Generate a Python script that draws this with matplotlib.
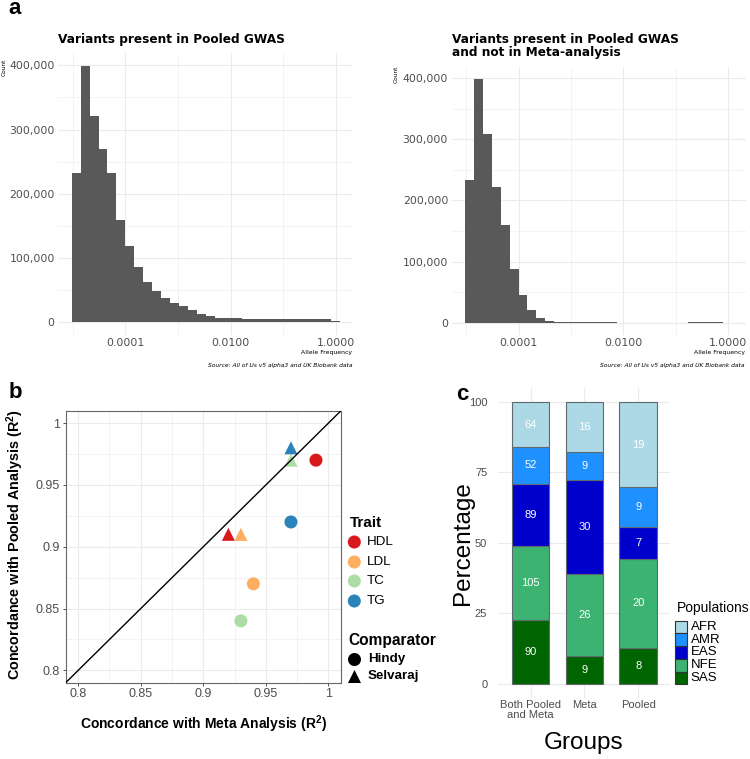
import numpy as np
import matplotlib
matplotlib.use("Agg")
import matplotlib.pyplot as plt
from matplotlib.patches import Rectangle
from matplotlib.ticker import NullFormatter

plt.rcParams['font.family'] = ['Liberation Sans', 'DejaVu Sans']
plt.rcParams['mathtext.fontset'] = 'custom'
plt.rcParams['mathtext.rm'] = 'Liberation Sans'
plt.rcParams['mathtext.bf'] = 'Liberation Sans:bold'

# ---- panel a: allele frequency histograms (30 bins on log10 scale), counts in thousands
log_lo, log_hi = -5.02, 0.08
pooled_k = [233, 399, 321, 270, 232, 159, 118, 85, 62, 48, 37, 30, 25, 19, 12,
            9, 7, 6, 5.5, 5, 4.5, 4, 4, 4, 4.5, 4.5, 4.5, 4, 4, 2]
pooled_only_k = [234, 399, 309, 222, 160, 88, 46, 20, 7, 3, 1.2, 0.6, 0.5, 0.4, 0.4,
                 0.4, 0.4, 0.3, 0.3, 0, 0, 0, 0, 0, 0, 0.4, 0.4, 0.4, 0.4, 0]
a_xticks = [1e-4, 1e-2, 1]
a_xticklabels = ["0.0001", "0.0100", "1.0000"]
a_yticks = [0, 100000, 200000, 300000, 400000]

# ---- panel b: concordance per trait
traits = ["HDL", "LDL", "TC", "TG"]
trait_colors = ["#D7191C", "#FDAE61", "#ABDDA4", "#2B83BA"]
hindy_meta = [0.99, 0.94, 0.93, 0.97]
hindy_pooled = [0.97, 0.87, 0.84, 0.92]
selvaraj_meta = [0.92, 0.93, 0.97, 0.97]
selvaraj_pooled = [0.91, 0.91, 0.97, 0.98]
b_ticks = [0.8, 0.85, 0.9, 0.95, 1.0]
b_ticklabels = ["0.8", "0.85", "0.9", "0.95", "1"]

# ---- panel c: populations per group
groups = ["Both Pooled\nand Meta", "Meta", "Pooled"]
populations = ["AFR", "AMR", "EAS", "NFE", "SAS"]
pop_colors = ["#ADD8E6", "#1E90FF", "#0000CD", "#3CB371", "#006400"]
afr = [64, 16, 19]
amr = [52, 9, 9]
eas = [89, 30, 7]
nfe = [105, 26, 20]
sas = [90, 9, 8]

W, H = 750, 759
GRID = "#EBEBEB"
TICK = "#4D4D4D"


def box(l, t, r, b):
    return [l / W, 1 - b / H, (r - l) / W, (b - t) / H]


fig = plt.figure(figsize=(W / 100, H / 100), dpi=100)

# overlay in pixel coordinates for titles and legends
lay = fig.add_axes([0, 0, 1, 1], zorder=10)
lay.set_xlim(0, W)
lay.set_ylim(H, 0)
lay.axis("off")
lay.patch.set_visible(False)


def hist_panel(rect, counts_k, title, count_xy, right):
    ax = fig.add_axes(box(*rect))
    edges = np.logspace(log_lo, log_hi, len(counts_k) + 1)
    ax.stairs(np.array(counts_k) * 1000, edges, fill=True, color="#595959", zorder=2)
    ax.set_xscale("log")
    span = log_hi - log_lo
    ax.set_xlim(10 ** (log_lo - 0.05 * span), 10 ** (log_hi + 0.05 * span))
    ax.set_ylim(-0.05 * 399000, 1.05 * 399000)
    font = dict(family="DejaVu Sans", fontsize=7.8, color=TICK)
    ax.set_xticks(a_xticks, labels=a_xticklabels, **font)
    ax.set_xticks([1e-5, 1e-3, 1e-1], minor=True)
    ax.xaxis.set_minor_formatter(NullFormatter())
    ax.set_yticks(a_yticks, labels=[f"{v:,}" for v in a_yticks], **font)
    ax.set_yticks([50000, 150000, 250000, 350000], minor=True)
    ax.grid(True, which="major", color=GRID, lw=0.8, zorder=0)
    ax.grid(True, which="minor", color=GRID, lw=0.4, zorder=0)
    ax.set_axisbelow(True)
    for s in ax.spines.values():
        s.set_visible(False)
    ax.tick_params(which="both", length=0)
    ax.tick_params(axis="y", pad=2.6)
    ax.tick_params(axis="x", pad=2.0)
    lay.text(rect[0], 39 if "\n" not in title else 46, title, family="DejaVu Sans",
             fontweight="bold", fontsize=8.7, ha="left", va="center", linespacing=1.0)
    lay.text(count_xy[0], count_xy[1], "Count", family="DejaVu Sans", fontsize=4.2,
             rotation=90, ha="center", va="top")
    lay.text(right, 352.7, "Allele Frequency", family="DejaVu Sans", fontsize=4.4,
             ha="right", va="center")
    lay.text(right, 366, "Source: All of Us v5 alpha3 and UK Biobank data",
             family="DejaVu Sans", fontsize=4.3, style="italic", ha="right", va="center")
    return ax


hist_panel((58.3, 53.2, 353.3, 334.8), pooled_k, "Variants present in Pooled GWAS",
           (4, 59), 352)
hist_panel((451.7, 66.5, 745.7, 334.9), pooled_only_k,
           "Variants present in Pooled GWAS\nand not in Meta-analysis", (395.7, 66), 745)

# ---- panel b
axb = fig.add_axes(box(65.7, 410.7, 341, 682.7))
axb.set_xlim(0.79, 1.01)
axb.set_ylim(0.79, 1.01)
axb.scatter(hindy_meta, hindy_pooled, c=trait_colors, marker="o", s=88,
            linewidths=0, zorder=2)
axb.scatter(selvaraj_meta, selvaraj_pooled, c=trait_colors, marker="^", s=88,
            linewidths=0, zorder=2)
axb.axline((0.8, 0.8), slope=1, color="black", lw=1.0, zorder=3)
axb.set_xticks(b_ticks, labels=b_ticklabels)
axb.set_yticks(b_ticks, labels=b_ticklabels)
minor = [0.825, 0.875, 0.925, 0.975]
axb.set_xticks(minor, minor=True)
axb.set_yticks(minor, minor=True)
axb.grid(True, which="major", color=GRID, lw=0.8, zorder=0)
axb.grid(True, which="minor", color=GRID, lw=0.4, zorder=0)
axb.set_axisbelow(True)
axb.tick_params(which="major", length=2.3, width=0.6, color="#333333",
                labelsize=9, labelcolor=TICK, pad=1.8)
axb.tick_params(which="minor", length=0)
for s in axb.spines.values():
    s.set_color("#666666")
    s.set_linewidth(0.8)

lay.text(203, 724, r"Concordance with Meta Analysis (R$^\mathbf{2}$)", fontsize=10,
         fontweight="bold", ha="center", va="center")
lay.text(15, 544, r"Concordance with Pooled Analysis (R$^\mathbf{2}$)", fontsize=10.4,
         fontweight="bold", ha="center", va="center", rotation=90)

# legend b
lay.text(350, 523, "Trait", fontsize=11, fontweight="bold", ha="left", va="center")
trait_rows = [542, 562, 581, 601]
lay.scatter([354.3] * len(traits), trait_rows, c=trait_colors, s=88, linewidths=0)
for name, y in zip(traits, trait_rows):
    lay.text(366.7, y, name, fontsize=9.6, ha="left", va="center")
lay.text(348, 640.7, "Comparator", fontsize=11.2, fontweight="bold", ha="left", va="center")
lay.scatter([354], [659], c="black", marker="o", s=88, linewidths=0)
lay.scatter([354], [676], c="black", marker="^", s=88, linewidths=0)
lay.text(367.7, 659, "Hindy", fontsize=9.6, fontweight="bold", ha="left", va="center")
lay.text(367.7, 676, "Selvaraj", fontsize=9.6, fontweight="bold", ha="left", va="center")

# ---- panel c
axc = fig.add_axes(box(498.4, 388, 670.4, 697.8))
stack = [sas, nfe, eas, amr, afr]
stack_colors = pop_colors[::-1]
totals = np.sum(np.array(stack), axis=0)
xpos = np.arange(len(groups))
bottom = np.zeros(len(groups))
for vals, col in zip(stack, stack_colors):
    pct = np.array(vals) / totals * 100
    axc.bar(xpos, pct, bottom=bottom, width=0.7, color=col, edgecolor="#5f6a70",
            linewidth=0.8, zorder=2)
    for x, p, b0, v in zip(xpos, pct, bottom, vals):
        axc.text(x, b0 + p / 2, str(v), color="white", fontsize=8, ha="center",
                 va="center", zorder=3)
    bottom = bottom + pct
axc.set_xlim(-0.6, len(groups) - 0.4)
axc.set_ylim(-5, 105)
axc.set_yticks([0, 25, 50, 75, 100])
axc.set_xticks(xpos, labels=groups, linespacing=1.05)
axc.grid(True, color=GRID, lw=0.8, zorder=0)
axc.set_axisbelow(True)
for s in axc.spines.values():
    s.set_visible(False)
axc.tick_params(length=0, labelsize=8, labelcolor=TICK)
axc.tick_params(axis="y", pad=8)
axc.tick_params(axis="x", pad=1.5)

lay.text(463, 543, "Percentage", fontsize=17.5, ha="center", va="center", rotation=90)
lay.text(584, 743, "Groups", fontsize=17.5, ha="center", va="center")

# legend c
lay.text(677, 608, "Populations", fontsize=10, ha="left", va="center")
key_top, key_h = 620.7, 12.7
for i, (name, col) in enumerate(zip(populations, pop_colors)):
    y0 = key_top + i * key_h
    lay.add_patch(Rectangle((674.7, y0), 12.3, key_h, facecolor=col,
                            edgecolor="#333333", linewidth=0.8))
    lay.text(690.7, y0 + key_h / 2, name, fontsize=9.5, ha="left", va="center")

# panel letters
lay.text(15, 9, "a", fontsize=16, fontweight="bold", ha="center", va="center")
lay.text(15, 393, "b", fontsize=16, fontweight="bold", ha="center", va="center")
lay.text(462, 395, "c", fontsize=16, fontweight="bold", ha="center", va="center")

fig.savefig("out.png", dpi=100)
